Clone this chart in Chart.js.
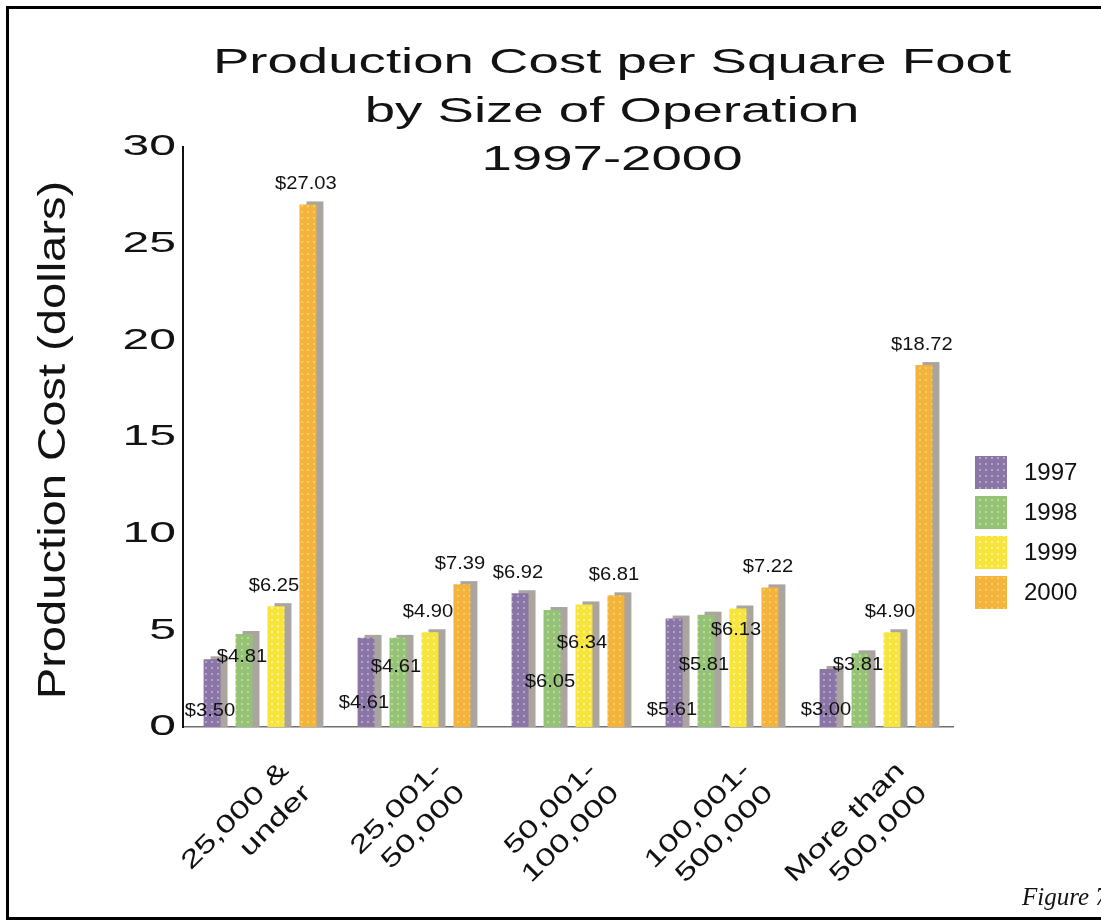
<!DOCTYPE html>
<html>
<head>
<meta charset="utf-8">
<title>Production Cost per Square Foot</title>
<script src="https://cdn.jsdelivr.net/npm/chart.js@4.4.1/dist/chart.umd.min.js"></script>
<style>
  html, body { margin: 0; padding: 0; background: #fff; }
  canvas { display: block; }
</style>
</head>
<body>
<canvas id="costChart" width="1101" height="922"></canvas>
<script>
// size of operation (sq ft), two-line tick labels
const sizeGroups = [
  ['25,000 &', 'under'],
  ['25,001-', '50,000'],
  ['50,001-', '100,000'],
  ['100,001-', '500,000'],
  ['More than', '500,000']
];
const years = ['1997', '1998', '1999', '2000'];

// production cost, dollars per square foot
const cost1997 = [3.50, 4.61, 6.92, 5.61, 3.00];
const cost1998 = [4.81, 4.61, 6.05, 5.81, 3.81];
const cost1999 = [6.25, 4.90, 6.34, 6.13, 4.90];
const cost2000 = [27.03, 7.39, 6.81, 7.22, 18.72];

const yTicks = [0, 5, 10, 15, 20, 25, 30];
const titleLines = ['Production Cost per Square Foot', 'by Size of Operation', '1997-2000'];
const yTitle = 'Production Cost (dollars)';
const caption = 'Figure 7';

// dotted fills like the old print screens
const swatch = (base, dot) => {
  const c = document.createElement('canvas');
  c.width = 6; c.height = 6;
  const g = c.getContext('2d');
  g.fillStyle = base; g.fillRect(0, 0, 6, 6);
  g.fillStyle = dot; g.fillRect(1, 1, 2, 2);
  return g.createPattern(c, 'repeat');
};
const fills = [
  swatch('#8a76a6', '#b9a2c6'),
  swatch('#95c27a', '#c3dc74'),
  swatch('#f8e53c', '#fff39a'),
  swatch('#f4b23f', '#f9d24c')
];

// where each value tag sits: 'top' = over the bar, number = px above the baseline
const tagLift = [
  [16, 24, 'top', 17, 17],
  [70, 60, 45, 62, 62],
  ['top', 'top', 84, 97, 'top'],
  ['top', 'top', 'top', 'top', 'top']
];

const INK = '#121212';
const FONT = '"Liberation Sans", Arial, sans-serif';

// text pulled out wide, the way the old chart font looks
const wideText = (ctx, text, x, y, sx, align) => {
  ctx.save();
  ctx.translate(x, y);
  ctx.scale(sx, 1);
  ctx.textAlign = align;
  ctx.fillText(text, 0, 0);
  ctx.restore();
};

const decor = {
  id: 'decor',
  beforeDatasetsDraw(chart) {
    const ctx = chart.ctx;
    ctx.save();
    ctx.fillStyle = '#aaa59f';
    chart.data.datasets.forEach((ds, i) => {
      chart.getDatasetMeta(i).data.forEach(bar => {
        const { x, y, base, width } = bar.getProps(['x', 'y', 'base', 'width'], true);
        ctx.fillRect(x - width / 2 + 7, y - 3, width, base - y + 3);
      });
    });
    ctx.restore();
  },
  afterDraw(chart) {
    const ctx = chart.ctx;
    const xs = chart.scales.x, ys = chart.scales.y;
    ctx.save();
    ctx.fillStyle = INK;
    ctx.textBaseline = 'middle';

    // value tags
    ctx.font = '18px ' + FONT;
    chart.data.datasets.forEach((ds, i) => {
      chart.getDatasetMeta(i).data.forEach((bar, j) => {
        const { x, y, base } = bar.getProps(['x', 'y', 'base'], true);
        const lift = tagLift[i][j];
        const ty = lift === 'top' ? y - 20 : base - lift;
        wideText(ctx, '$' + ds.data[j].toFixed(2), x - 2, ty, 1.12, 'center');
      });
    });

    // y tick labels
    ctx.font = '30px ' + FONT;
    ys.ticks.forEach(t => {
      wideText(ctx, String(t.value), 176, ys.getPixelForValue(t.value), 1.6, 'right');
    });

    // y axis title
    ctx.save();
    ctx.translate(55, (ys.top + ys.bottom) / 2 + 3);
    ctx.rotate(-Math.PI / 2);
    ctx.font = '38px ' + FONT;
    wideText(ctx, yTitle, 0, 0, 1.24, 'center');
    ctx.restore();

    // category labels, slanted
    ctx.font = '25px ' + FONT;
    ctx.textBaseline = 'top';
    sizeGroups.forEach((lines, i) => {
      const tx = xs.getPixelForTick(i);
      ctx.save();
      ctx.translate(tx + 16, 758);
      ctx.rotate(-Math.PI / 4);
      lines.forEach((ln, k) => wideText(ctx, ln, 0, k * 32, 1.4, 'right'));
      ctx.restore();
    });

    // title
    ctx.textBaseline = 'alphabetic';
    ctx.font = '35px ' + FONT;
    titleLines.forEach((ln, k) => wideText(ctx, ln, 612, 73 + k * 48.5, 1.56, 'center'));

    // legend
    ctx.textBaseline = 'middle';
    ctx.font = '24px ' + FONT;
    years.forEach((yr, i) => {
      const top = 456 + i * 40;
      ctx.fillStyle = fills[i];
      ctx.fillRect(975, top, 32, 33);
      ctx.fillStyle = INK;
      ctx.textAlign = 'left';
      ctx.fillText(yr, 1024, top + 17);
    });

    // frame and caption
    ctx.strokeStyle = '#000';
    ctx.lineWidth = 3;
    ctx.strokeRect(7.5, 7.5, 1200, 911);
    ctx.font = 'italic 25px "Liberation Serif", "Times New Roman", serif';
    ctx.textBaseline = 'alphabetic';
    ctx.textAlign = 'left';
    ctx.fillText(caption, 1022, 905);
    ctx.restore();
  }
};

new Chart(document.getElementById('costChart'), {
  type: 'bar',
  data: {
    labels: sizeGroups,
    datasets: [
      { label: years[0], data: cost1997, backgroundColor: fills[0] },
      { label: years[1], data: cost1998, backgroundColor: fills[1] },
      { label: years[2], data: cost1999, backgroundColor: fills[2] },
      { label: years[3], data: cost2000, backgroundColor: fills[3] }
    ]
  },
  options: {
    responsive: false,
    animation: false,
    layout: { padding: { top: 147, right: 148, bottom: 15, left: 8 } },
    datasets: { bar: { categoryPercentage: 0.83, barPercentage: 0.53 } },
    scales: {
      x: {
        grid: { display: false },
        border: { color: '#707070', width: 1.5 },
        ticks: { display: false },
        afterFit: s => { s.height = 180; }
      },
      y: {
        min: yTicks[0],
        max: yTicks[yTicks.length - 1],
        ticks: { stepSize: yTicks[1] - yTicks[0], display: false },
        grid: { display: false },
        border: { color: '#111', width: 2 },
        afterFit: s => { s.width = 175; }
      }
    },
    plugins: { legend: { display: false }, tooltip: { enabled: false } }
  },
  plugins: [decor]
});
</script>
</body>
</html>
